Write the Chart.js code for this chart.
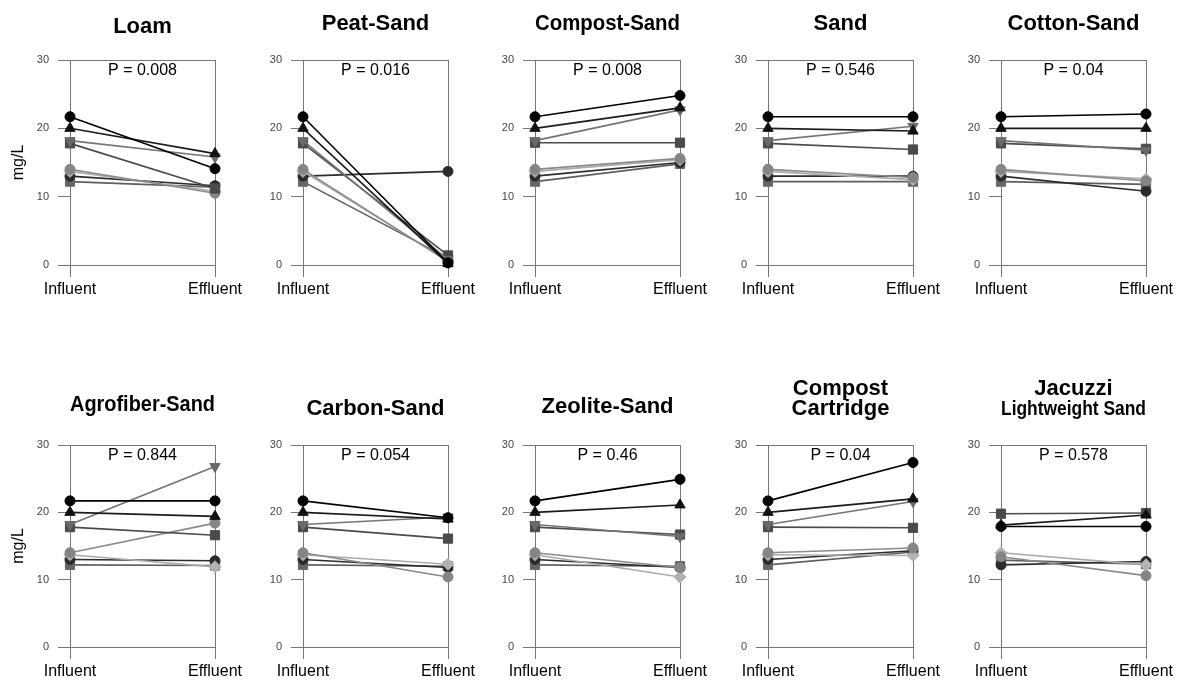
<!DOCTYPE html>
<html>
<head>
<meta charset="utf-8">
<title>Influent vs Effluent</title>
<script src="https://cdn.jsdelivr.net/npm/chart.js@4.4.0/dist/chart.umd.min.js"></script>
<style>
  body { margin: 0; background: #fff; width: 1178px; height: 683px; overflow: hidden; position: relative; }
  .panel { position: absolute; width: 250px; height: 320px; }
</style>
</head>
<body>
<script>
// panel titles, in reading order
const titles = ['Loam', 'Peat-Sand', 'Compost-Sand', 'Sand', 'Cotton-Sand',
                'Agrofiber-Sand', 'Carbon-Sand', 'Zeolite-Sand', ['Compost', 'Cartridge'], 'Jacuzzi'];
const subtitles = [null, null, null, null, null, null, null, null, null, 'Lightweight Sand'];
const pValues = ['0.008', '0.016', '0.008', '0.546', '0.04', '0.844', '0.054', '0.46', '0.04', '0.578'];
const categories = ['Influent', 'Effluent'];

// one [influent, effluent] pair per panel, mg/L
const blackCircle   = [[21.7, 14.1], [21.7, 0.3], [21.7, 24.8], [21.7, 21.7], [21.7, 22.1],
                       [21.7, 21.7], [21.7, 19.2], [21.7, 24.9], [21.7, 27.4], [17.9, 17.9]];
const blackTriangle = [[20.0, 16.3], [20.0, 0.2], [20.0, 23.0], [20.0, 19.6], [20.0, 20.0],
                       [20.0, 19.4], [20.0, 19.0], [20.0, 21.1], [20.0, 22.0], [18.1, 19.6]];
const grayDownTri   = [[18.2, 15.8], [18.2, 0.8], [18.2, 22.7], [18.2, 20.3], [18.2, 16.8],
                       [18.2, 26.8], [18.2, 19.3], [18.2, 16.4], [18.2, 21.6], [null, null]];
const darkSquare    = [[17.8, 11.2], [17.8, 1.4], [17.9, 17.9], [17.8, 16.9], [17.8, 17.0],
                       [17.8, 16.6], [17.8, 16.1], [17.8, 16.7], [17.8, 17.7], [19.8, 19.9]];
const grayCircle    = [[14.0, 10.5], [14.0, 0.5], [14.0, 15.6], [14.0, 12.8], [14.0, 12.3],
                       [14.0, 18.4], [14.0, 10.4], [14.0, 11.8], [14.0, 14.7], [13.4, 10.6]];
const lightDiamond  = [[13.7, 10.8], [13.7, 0.6], [13.7, 15.4], [13.7, 12.5], [13.7, 12.6],
                       [13.7, 11.9], [13.7, 12.3], [13.7, 10.4], [13.7, 13.6], [14.0, 12.2]];
const darkCircle    = [[13.0, 11.6], [13.0, 13.7], [13.0, 15.0], [13.0, 13.0], [13.0, 10.8],
                       [13.0, 12.8], [13.0, 11.8], [13.0, 11.8], [13.0, 14.3], [12.2, 12.7]];
const graySquare    = [[12.2, 11.4], [12.2, 1.0], [12.2, 14.8], [12.2, 12.2], [12.2, 11.8],
                       [12.2, 12.1], [12.2, 12.0], [12.2, 12.0], [12.2, 14.1], [12.9, 12.3]];

// layout
const colLeft = [0, 233, 465, 698, 931];
const rowTop = [-20, 365];
const rowPadBottom = [3, 6];
const titleMid = [47.3, 43.8, 43.8, 43.8, 43.8, 40.2, 44.3, 41.8, 23.5, 23.5];
const FONT = '"Liberation Sans", Arial, sans-serif';
const gridColor = '#767676';

const seriesStyle = [
  { data: blackCircle,   color: '#000000', line: '#000000', style: 'circle',   rot: 0,   r: 5 },
  { data: blackTriangle, color: '#111111', line: '#1a1a1a', style: 'triangle', rot: 0,   r: 6 },
  { data: grayDownTri,   color: '#6a6a6a', line: '#747474', style: 'triangle', rot: 180, r: 6 },
  { data: darkSquare,    color: '#4a4a4a', line: '#4a4a4a', style: 'rect',     rot: 0,   r: 6.5 },
  { data: grayCircle,    color: '#858585', line: '#8a8a8a', style: 'circle',   rot: 0,   r: 5 },
  { data: lightDiamond,  color: '#b2b2b2', line: '#ababab', style: 'rectRot',  rot: 0,   r: 6 },
  { data: darkCircle,    color: '#2b2b2b', line: '#2b2b2b', style: 'circle',   rot: 0,   r: 5 },
  { data: graySquare,    color: '#666666', line: '#5e5e5e', style: 'rect',     rot: 0,   r: 6.5 }
];

const pLabel = {
  id: 'pLabel',
  afterDraw(chart, args, opts) {
    const { ctx, chartArea } = chart;
    ctx.save();
    ctx.font = '16px ' + FONT;
    ctx.fillStyle = '#000';
    ctx.textAlign = 'center';
    ctx.textBaseline = 'middle';
    ctx.fillText('P = ' + opts.text, (chartArea.left + chartArea.right) / 2, chartArea.top + 11);
    ctx.restore();
  }
};

function titleOptions(i) {
  const twoLine = Array.isArray(titles[i]) || !!subtitles[i];
  const lh = twoLine ? 20.7 : 26.4;
  const lines = Array.isArray(titles[i]) ? titles[i].length : 1;
  const top = titleMid[i] - lh / 2;
  const bottom = subtitles[i] ? 0 : 80 - top - lines * lh;
  return {
    display: true, text: titles[i], fullSize: false, color: '#000',
    font: { family: FONT, size: 22, weight: 'bold', lineHeight: lh / 22 },
    padding: { top: top, bottom: bottom }
  };
}

function subtitleOptions(i) {
  if (!subtitles[i]) return { display: false };
  const used = (titleMid[i] - 10.35) + 20.7;
  const top = 44.7 - 10 - used;
  return {
    display: true, text: subtitles[i], fullSize: false, color: '#000',
    font: { family: FONT, size: 20, weight: 'bold', lineHeight: 1 },
    padding: { top: top, bottom: 80 - used - top - 20 }
  };
}

for (let i = 0; i < titles.length; i++) {
  const row = Math.floor(i / 5), col = i % 5;
  const div = document.createElement('div');
  div.className = 'panel';
  div.style.left = colLeft[col] + 'px';
  div.style.top = rowTop[row] + 'px';
  const canvas = document.createElement('canvas');
  canvas.width = 250;
  canvas.height = 320;
  div.appendChild(canvas);
  document.body.appendChild(div);

  new Chart(canvas.getContext('2d'), {
    type: 'line',
    data: {
      labels: categories,
      datasets: seriesStyle.map(s => ({
        data: s.data[i],
        borderColor: s.line,
        backgroundColor: s.color,
        pointBorderColor: s.color,
        pointBackgroundColor: s.color,
        pointStyle: s.style,
        rotation: s.rot,
        pointRadius: s.r,
        pointBorderWidth: 1,
        borderWidth: 1.6,
        clip: false
      }))
    },
    options: {
      responsive: false,
      animation: false,
      events: [],
      layout: { padding: { left: 0, right: 35, top: 0, bottom: rowPadBottom[row] } },
      plugins: {
        legend: { display: false },
        tooltip: { enabled: false },
        title: titleOptions(i),
        subtitle: subtitleOptions(i),
        pLabel: { text: pValues[i] }
      },
      scales: {
        x: {
          offset: false,
          grid: { color: gridColor, tickColor: gridColor, tickLength: 12 },
          border: { color: gridColor },
          ticks: { color: '#000', font: { family: FONT, size: 16 }, padding: 3, maxRotation: 0, autoSkip: false },
          afterFit: s => { s.height = 32; }
        },
        y: {
          min: 0, max: 30,
          grid: {
            color: c => (c.tick && (c.tick.value === 0 || c.tick.value === 30)) ? gridColor : 'rgba(0,0,0,0)',
            tickColor: gridColor, tickLength: 12
          },
          border: { color: gridColor },
          ticks: { stepSize: 10, color: '#444', font: { family: FONT, size: 11 }, padding: 9 },
          title: {
            display: col === 0, text: 'mg/L', color: '#000',
            font: { family: FONT, size: 16 }, padding: { top: 8.5, bottom: 0 }
          },
          afterFit: s => { s.width = 70; }
        }
      }
    },
    plugins: [pLabel]
  });
}
</script>
</body>
</html>
